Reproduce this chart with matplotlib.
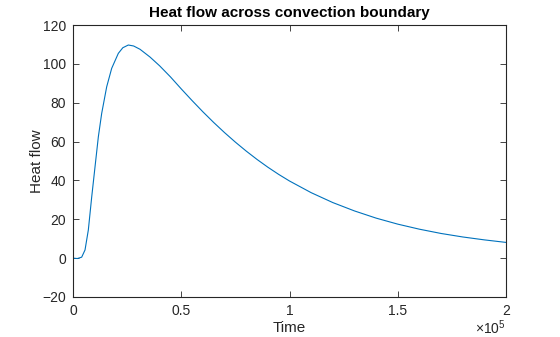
import matplotlib
matplotlib.use("Agg")
import matplotlib.pyplot as plt

# values (time in s, heat flow)
time = [0, 2000, 4000, 5540, 7070, 8640, 10160, 11700, 13240, 15550, 17860,
        20920, 23000, 25540, 28000, 30950, 35570, 40000, 45000, 50000, 55000,
        60000, 65000, 70000, 75000, 80000, 85000, 90000, 95000, 100000,
        110000, 120000, 130000, 140000, 150000, 160000, 170000, 180000,
        190000, 200000]
heat = [0, -0.2, 0.5, 4.2, 14.5, 31.6, 47.0, 62.5, 74.5, 88.2, 97.7,
        105.4, 108.3, 109.7, 109.2, 107.5, 103.5, 99.0, 93.3, 87.1, 81.1,
        75.3, 69.8, 64.6, 59.7, 55.1, 50.8, 46.8, 43.1, 39.7,
        33.7, 28.6, 24.3, 20.6, 17.5, 14.9, 12.7, 10.9,
        9.4, 8.1]

xticks = [0, 50000, 100000, 150000, 200000]
xtick_labels = ["0", "0.5", "1", "1.5", "2"]
yticks = [-20, 0, 20, 40, 60, 80, 100, 120]

plt.rcParams["font.family"] = ["Liberation Sans", "DejaVu Sans"]
plt.rcParams["mathtext.fontset"] = "custom"
plt.rcParams["mathtext.rm"] = "Liberation Sans"
plt.rcParams["mathtext.default"] = "regular"

axcol = "#262626"
fig = plt.figure(figsize=(5.6, 3.37), dpi=100)
ax = fig.add_axes([0.1304, 0.1187, 0.7732, 0.8071])

ax.plot(time, heat, color="#0072BD", linewidth=0.8)

ax.set_xlim(0, 200000)
ax.set_ylim(-20, 120)
ax.set_xticks(xticks)
ax.set_xticklabels(xtick_labels)
ax.set_yticks(yticks)
ax.tick_params(direction="in", top=True, right=True, length=4, width=0.6,
               labelsize=10, colors=axcol, pad=5)
for s in ax.spines.values():
    s.set_linewidth(0.8)
    s.set_color(axcol)

ax.set_xlabel("Time", fontsize=11, color=axcol, labelpad=2)
ax.set_ylabel("Heat flow", fontsize=11, color=axcol, labelpad=-1)
ax.set_title("Heat flow across convection boundary", fontsize=11,
             fontweight="bold", pad=6)
ax.text(1.0, -0.08, r"×10$^{5}$", transform=ax.transAxes, ha="right",
        va="top", fontsize=10, color=axcol)

fig.savefig("out.png", dpi=100)
